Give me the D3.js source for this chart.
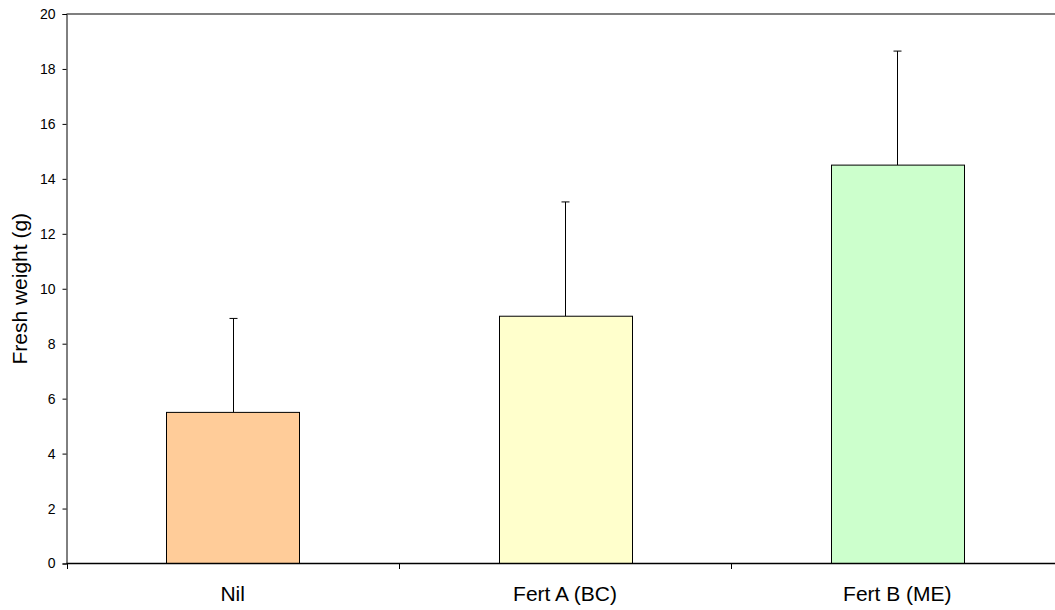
<!DOCTYPE html>
<html><head><meta charset="utf-8">
<script src="https://cdn.jsdelivr.net/npm/d3@7"></script>
<style>body{margin:0;background:#fff}svg{display:block;font-family:"Liberation Sans",Arial,sans-serif}</style>
</head><body><svg id="c" width="1055" height="610"></svg>
<script>
const categories = ["Nil", "Fert A (BC)", "Fert B (ME)"];
const means = [5.5, 9.0, 14.5];
const errors = [3.42, 4.16, 4.15];
const colors = ["#FFCC99", "#FFFFCC", "#CCFFCC"];
const yTicks = [0, 2, 4, 6, 8, 10, 12, 14, 16, 18, 20];

const svg = d3.select("#c");
const x = d3.scaleBand().domain(categories).range([66.5, 1063.5]).paddingInner(0).paddingOuter(0);
const y = d3.scaleLinear().domain([0, 20]).range([563.5, 14]);
const bw = x.bandwidth() * 0.4;

// top border
svg.append("line").attr("x1", 66.5).attr("x2", 1063.5).attr("y1", y(20)).attr("y2", y(20))
  .attr("stroke", "#555").attr("stroke-width", 1.4);

// error bars
categories.forEach((c, i) => {
  const cx = Math.round(x(c) + x.bandwidth() / 2) + 0.5;
  svg.append("line").attr("x1", cx).attr("x2", cx).attr("y1", y(means[i])).attr("y2", y(means[i] + errors[i]))
    .attr("stroke", "#000").attr("stroke-width", 1);
  svg.append("line").attr("x1", cx - 4).attr("x2", cx + 4).attr("y1", y(means[i] + errors[i])).attr("y2", y(means[i] + errors[i]))
    .attr("stroke", "#000").attr("stroke-width", 1);
});

// bars
svg.selectAll("rect.bar").data(categories).enter().append("rect")
  .attr("x", d => Math.round(x(d) + (x.bandwidth() - bw) / 2) + 0.5)
  .attr("width", Math.round(bw))
  .attr("y", (d, i) => y(means[i]))
  .attr("height", (d, i) => y(0) - y(means[i]))
  .attr("fill", (d, i) => colors[i])
  .attr("stroke", "#000").attr("stroke-width", 1);

// y axis
const yAxis = svg.append("g").attr("transform", "translate(66.5,0)")
  .call(d3.axisLeft(y).tickValues(yTicks).tickSize(4).tickPadding(7).tickFormat(d3.format("d")));
yAxis.select(".domain").attr("stroke", "#000").attr("stroke-width", 1);
yAxis.selectAll(".tick line").attr("stroke", "#000");
yAxis.selectAll("text").attr("font-size", 14).attr("fill", "#000").attr("font-family", "Liberation Sans, Arial, sans-serif");

// x axis
const xAxis = svg.append("g").attr("transform", "translate(0,563.5)")
  .call(d3.axisBottom(x).tickSize(0).tickPadding(0));
xAxis.select(".domain").remove();
xAxis.selectAll("text").attr("y", 37.5).attr("dy", null)
  .attr("font-size", 21).attr("fill", "#000").attr("font-family", "Liberation Sans, Arial, sans-serif");
svg.append("line").attr("x1", 66.5).attr("x2", 1063.5).attr("y1", 563.5).attr("y2", 563.5)
  .attr("stroke", "#000").attr("stroke-width", 1.3);
// category separator ticks
const seps = categories.map(c => x(c));
svg.selectAll("line.sep").data(seps).enter().append("line")
  .attr("x1", d => Math.round(d) + 0.5).attr("x2", d => Math.round(d) + 0.5)
  .attr("y1", 563.5).attr("y2", 569).attr("stroke", "#000");

// y label
svg.append("text").attr("transform", "translate(27," + y(10) + ") rotate(-90)")
  .attr("text-anchor", "middle").attr("font-size", 21).attr("fill", "#000")
  .text("Fresh weight (g)");
</script></body></html>
